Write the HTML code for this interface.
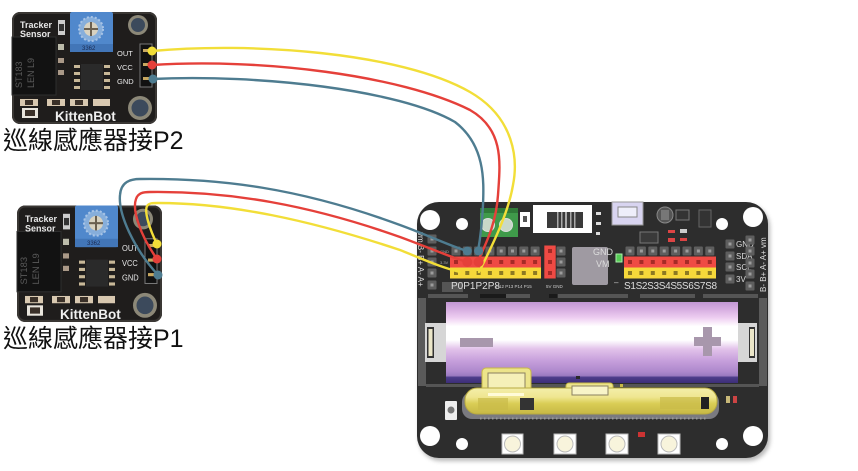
<!DOCTYPE html>
<html><head><meta charset="utf-8"><style>
html,body{margin:0;padding:0;background:#fff;width:858px;height:471px;overflow:hidden}
svg{display:block}
text{font-family:"Liberation Sans","Noto Sans CJK TC",sans-serif}
</style></head><body>
<svg width="858" height="471" viewBox="0 0 858 471" xmlns="http://www.w3.org/2000/svg">
<defs>
<g id="pg"><rect x="-4.5" y="-4.5" width="9" height="9" rx="1" fill="#5e5e5e"/><rect x="-1.5" y="-1.5" width="3" height="3" fill="#9c9c9c"/></g>
<g id="pr"><rect x="-5.7" y="-5.5" width="11.4" height="11" fill="#ef4a44"/><rect x="-2" y="-2" width="4" height="4" fill="#a52a26"/></g>
<g id="py"><rect x="-5.7" y="-5.5" width="11.4" height="11" fill="#f6d83a"/><rect x="-2" y="-2" width="4" height="4" fill="#8c7a22"/></g>
<linearGradient id="bat" x1="0" y1="0" x2="0" y2="1">
<stop offset="0" stop-color="#c298d4"/><stop offset="0.1" stop-color="#d9b0e2"/><stop offset="0.2" stop-color="#efd0f2"/><stop offset="0.3" stop-color="#ffffff"/><stop offset="0.47" stop-color="#ffffff"/><stop offset="0.58" stop-color="#e2c2ea"/><stop offset="0.72" stop-color="#c7a0dc"/><stop offset="0.86" stop-color="#ad88cc"/><stop offset="0.91" stop-color="#9a7ac0"/><stop offset="0.93" stop-color="#4c3c8a"/><stop offset="1" stop-color="#3d2e78"/>
</linearGradient>
<linearGradient id="gold" x1="0" y1="0" x2="0" y2="1">
<stop offset="0" stop-color="#f4eeaa"/><stop offset="0.35" stop-color="#efe690"/><stop offset="0.6" stop-color="#d9cd55"/><stop offset="1" stop-color="#c7b845"/>
</linearGradient>
<filter id="sh" x="-5%" y="-5%" width="110%" height="110%"><feGaussianBlur stdDeviation="2"/></filter>

<g id="sensor">
<rect x="12" y="12" width="145" height="112" rx="8" fill="#1f1d1c"/>
<rect x="13" y="13" width="143" height="110" rx="7" fill="none" stroke="#3a3734" stroke-width="2"/>
<rect x="12" y="37" width="44" height="58" fill="#121212" stroke="#2e2e2e"/>
<text transform="translate(22,88) rotate(-90)" font-size="9" fill="#5a5a5a">ST183</text>
<text transform="translate(34,88) rotate(-90)" font-size="9" fill="#5a5a5a">LEN L9</text>
<text x="20" y="28" font-size="9" font-weight="bold" fill="#e8e8e8">Tracker</text>
<text x="20" y="37" font-size="9" font-weight="bold" fill="#e8e8e8">Sensor</text>
<rect x="58" y="20" width="7" height="15" fill="#ccc"/><rect x="59" y="24" width="5" height="7" fill="#333"/>
<rect x="58" y="44" width="6" height="6" fill="#bba"/><rect x="58" y="58" width="6" height="5" fill="#a98"/><rect x="58" y="70" width="6" height="5" fill="#a98"/>
<rect x="70" y="12" width="43" height="40" rx="2" fill="#5088cc"/>
<rect x="70" y="44" width="43" height="8" fill="#4276b8"/>
<circle cx="91" cy="29" r="12" fill="#86aedb" stroke="#a8c4e6" stroke-width="2" stroke-dasharray="2 2"/>
<circle cx="91" cy="29" r="7" fill="#d8d2c0"/>
<rect x="84" y="28" width="14" height="2" fill="#6a6050"/><rect x="90" y="22" width="2" height="14" fill="#6a6050"/>
<text x="82" y="50" font-size="6" fill="#1a2a50">3362</text>
<rect x="81" y="64" width="22" height="26" fill="#2a2a2a"/>
<g fill="#c8b898"><rect x="74" y="65" width="6" height="3"/><rect x="74" y="72" width="6" height="3"/><rect x="74" y="79" width="6" height="3"/><rect x="74" y="86" width="6" height="3"/><rect x="104" y="65" width="6" height="3"/><rect x="104" y="72" width="6" height="3"/><rect x="104" y="79" width="6" height="3"/><rect x="104" y="86" width="6" height="3"/></g>
<text x="117" y="56" font-size="7.5" fill="#e8e8e8">OUT</text>
<text x="117" y="70" font-size="7.5" fill="#e8e8e8">VCC</text>
<text x="117" y="84" font-size="7.5" fill="#e8e8e8">GND</text>
<rect x="140" y="44" width="12" height="43" fill="#111" stroke="#777" stroke-width="1"/>
<rect x="143" y="49" width="9" height="3" fill="#c8a860"/><rect x="143" y="63" width="9" height="3" fill="#c8a860"/><rect x="143" y="77" width="9" height="3" fill="#c8a860"/>
<circle cx="138" cy="25" r="10" fill="#8c8878"/><circle cx="138" cy="25" r="7" fill="#3c4a5c"/>
<circle cx="140" cy="108" r="12" fill="#8c8878"/><circle cx="140" cy="108" r="8.5" fill="#3c4a5c"/>
<g fill="#d8c8b0"><rect x="20" y="99" width="18" height="7"/><rect x="47" y="99" width="18" height="7"/><rect x="70" y="99" width="18" height="7"/><rect x="93" y="99" width="17" height="7"/></g>
<g fill="#3a3028"><rect x="25" y="100" width="8" height="5"/><rect x="52" y="100" width="8" height="5"/><rect x="75" y="100" width="8" height="5"/></g>
<rect x="22" y="108" width="16" height="10" fill="#e8e4dc"/><rect x="25" y="110" width="10" height="6" fill="#3a3028"/>
<text x="55" y="121" font-size="13.5" font-weight="bold" fill="#f0f0f0">KittenBot</text>
</g>
</defs>

<rect width="858" height="471" fill="#fff"/>

<use href="#sensor"/>
<use href="#sensor" transform="translate(5,193) scale(1.0,1.04)"/>

<text x="3" y="149" font-size="25" fill="#111" font-family="'Liberation Sans','Noto Sans CJK TC',sans-serif">巡線感應器接P2</text>
<text x="3" y="347" font-size="25" fill="#111" font-family="'Liberation Sans','Noto Sans CJK TC',sans-serif">巡線感應器接P1</text>

<!-- board -->
<rect x="419" y="205" width="351" height="256" rx="22" fill="#888" opacity="0.6" filter="url(#sh)"/>
<rect x="417" y="202" width="351" height="256" rx="22" fill="#2d2d2d"/>
<circle cx="430" cy="220" r="10" fill="#fff"/><circle cx="462" cy="224" r="6" fill="#fff"/>
<circle cx="753" cy="217" r="10" fill="#fff"/><circle cx="722" cy="224" r="6" fill="#fff"/>
<circle cx="430" cy="436" r="10" fill="#fff"/><circle cx="462" cy="444" r="6" fill="#fff"/>
<circle cx="753" cy="436" r="10" fill="#fff"/><circle cx="722" cy="444" r="6" fill="#fff"/>

<!-- top components -->
<rect x="480" y="208" width="38" height="29" fill="#3f9a4a"/>
<rect x="480" y="208" width="38" height="5" fill="#2f7a38"/>
<circle cx="488" cy="225" r="6.5" fill="#c8d8c8" stroke="#ddd"/><circle cx="506" cy="225" r="6.5" fill="#c8d8c8" stroke="#ddd"/>
<rect x="520" y="212" width="10" height="15" fill="#fff"/><rect x="523" y="216" width="4" height="6" fill="#555"/>
<rect x="533" y="205" width="59" height="28" fill="#fff"/>
<rect x="547" y="212" width="36" height="16" fill="#3a3a3a"/>
<g fill="#aaa"><rect x="557" y="212" width="1.5" height="16"/><rect x="561" y="212" width="1.5" height="16"/><rect x="565" y="212" width="2" height="16"/><rect x="570" y="212" width="1.5" height="16"/><rect x="574" y="212" width="1.5" height="16"/></g>
<rect x="596" y="212" width="5" height="3" fill="#ddd"/><rect x="596" y="222" width="5" height="3" fill="#ddd"/><rect x="596" y="232" width="4" height="3" fill="#ddd"/>
<rect x="612" y="202" width="31" height="23" fill="#d8d4f0" stroke="#999"/>
<rect x="618" y="207" width="19" height="10" fill="#eeeefa" stroke="#888"/>
<circle cx="665" cy="215" r="8" fill="#555" stroke="#888"/><rect x="661" y="210" width="8" height="10" fill="#777"/>
<rect x="676" y="210" width="13" height="10" fill="#333" stroke="#777"/>
<rect x="699" y="210" width="12" height="17" fill="#333" stroke="#666"/>
<rect x="640" y="232" width="18" height="11" fill="#3a3a3a" stroke="#777"/>
<rect x="668" y="230" width="7" height="3" fill="#d44"/><rect x="680" y="229" width="7" height="4" fill="#ccc"/>
<rect x="668" y="238" width="7" height="4" fill="#d44"/><rect x="680" y="238" width="7" height="3" fill="#d44"/>

<!-- left edge column -->
<g><use href="#pg" x="432" y="239"/><use href="#pg" x="432" y="251"/><use href="#pg" x="432" y="262"/><use href="#pg" x="432" y="273"/><use href="#pg" x="432" y="285"/></g>
<text transform="translate(418,232) rotate(90)" font-size="8" fill="#ddd">vm B- B+ A- A+</text>
<text x="440" y="253" font-size="4" fill="#aaa">GND</text>
<text x="440" y="264" font-size="4" fill="#aaa">3.3V</text>

<!-- left header -->
<rect x="450" y="256.5" width="91" height="11" fill="#ef4a44"/>
<rect x="450" y="267.5" width="91" height="11" fill="#f6d83a"/>
<g>
<use href="#pg" x="456" y="251"/><use href="#pg" x="467.3" y="251"/><use href="#pg" x="478.6" y="251"/><use href="#pg" x="489.9" y="251"/><use href="#pg" x="501.2" y="251"/><use href="#pg" x="512.5" y="251"/><use href="#pg" x="523.8" y="251"/><use href="#pg" x="535.1" y="251"/>
<use href="#pr" x="456" y="262"/><use href="#pr" x="467.3" y="262"/><use href="#pr" x="478.6" y="262"/><use href="#pr" x="489.9" y="262"/><use href="#pr" x="501.2" y="262"/><use href="#pr" x="512.5" y="262"/><use href="#pr" x="523.8" y="262"/><use href="#pr" x="535.1" y="262"/>
<use href="#py" x="456" y="273"/><use href="#py" x="467.3" y="273"/><use href="#py" x="478.6" y="273"/><use href="#py" x="489.9" y="273"/><use href="#py" x="501.2" y="273"/><use href="#py" x="512.5" y="273"/><use href="#py" x="523.8" y="273"/><use href="#py" x="535.1" y="273"/>
<use href="#pr" x="550" y="251"/><use href="#pr" x="550" y="262"/><use href="#pr" x="550" y="273"/>
<use href="#pg" x="561" y="251"/><use href="#pg" x="561" y="262"/><use href="#pg" x="561" y="273"/>
</g>
<rect x="442" y="282" width="21" height="10" fill="#555"/>
<text x="451" y="289" font-size="10" fill="#ddd">P0P1P2P8</text>
<text x="496" y="288" font-size="4.5" fill="#ccc">P12 P13 P14 P15</text>
<text x="546" y="288" font-size="4.5" fill="#ccc">5V GND</text>
<rect x="572" y="247" width="36" height="38" rx="2" fill="#9f9aa2"/>
<text x="593" y="255" font-size="9" fill="#ddd">GND</text>
<text x="596" y="267" font-size="9" fill="#ddd">VM</text>
<rect x="616" y="254" width="6" height="8" fill="#5c5" stroke="#aea"/>
<text x="614" y="285" font-size="8" fill="#ccc">–</text>

<!-- right header -->
<rect x="624" y="256.5" width="92" height="11" fill="#ef4a44"/>
<rect x="624" y="267.5" width="92" height="11" fill="#f6d83a"/>
<g>
<use href="#pg" x="630" y="251"/><use href="#pg" x="641.4" y="251"/><use href="#pg" x="652.8" y="251"/><use href="#pg" x="664.2" y="251"/><use href="#pg" x="675.6" y="251"/><use href="#pg" x="687" y="251"/><use href="#pg" x="698.4" y="251"/><use href="#pg" x="709.8" y="251"/>
<use href="#pr" x="630" y="262"/><use href="#pr" x="641.4" y="262"/><use href="#pr" x="652.8" y="262"/><use href="#pr" x="664.2" y="262"/><use href="#pr" x="675.6" y="262"/><use href="#pr" x="687" y="262"/><use href="#pr" x="698.4" y="262"/><use href="#pr" x="709.8" y="262"/>
<use href="#py" x="630" y="273"/><use href="#py" x="641.4" y="273"/><use href="#py" x="652.8" y="273"/><use href="#py" x="664.2" y="273"/><use href="#py" x="675.6" y="273"/><use href="#py" x="687" y="273"/><use href="#py" x="698.4" y="273"/><use href="#py" x="709.8" y="273"/>
</g>
<text x="624" y="289" font-size="10" fill="#ddd" textLength="93">S1S2S3S4S5S6S7S8</text>
<g><use href="#pg" x="730" y="244"/><use href="#pg" x="730" y="256"/><use href="#pg" x="730" y="267"/><use href="#pg" x="730" y="279"/></g>
<text x="736" y="247" font-size="8" fill="#ddd">GND</text>
<text x="736" y="259" font-size="8" fill="#ddd">SDA</text>
<text x="736" y="270" font-size="8" fill="#ddd">SCL</text>
<text x="736" y="282" font-size="8" fill="#ddd">3V</text>
<g><use href="#pg" x="750" y="240"/><use href="#pg" x="750" y="251"/><use href="#pg" x="750" y="263"/><use href="#pg" x="750" y="274"/><use href="#pg" x="750" y="286"/></g>
<text transform="translate(766,292) rotate(-90)" font-size="8" fill="#ddd">B- B+ A- A+ vm</text>

<!-- battery area -->
<g fill="#555"><rect x="428" y="294" width="40" height="4"/><rect x="486" y="294" width="44" height="4"/><rect x="558" y="294" width="70" height="4"/><rect x="640" y="294" width="55" height="4"/><rect x="703" y="294" width="55" height="4"/></g>
<g fill="#1a1a1a"><rect x="480" y="294" width="26" height="4"/><rect x="549" y="294" width="8" height="4"/></g>
<rect x="418" y="298" width="8" height="88" fill="#5a5a5a"/>
<rect x="759" y="298" width="8" height="88" fill="#5a5a5a"/>
<rect x="426" y="384" width="333" height="3" fill="#555"/>
<rect x="446" y="302" width="292" height="81" fill="url(#bat)"/>
<rect x="425" y="323" width="21" height="39" fill="#d6d6d6"/>
<rect x="427" y="327" width="7" height="31" fill="#333"/><rect x="428.5" y="329" width="4" height="27" fill="#ebe6c8"/>
<rect x="738" y="323" width="19" height="39" fill="#d6d6d6"/>
<rect x="749" y="327" width="6" height="31" fill="#333"/><rect x="750" y="329" width="4" height="27" fill="#ebe6c8"/>
<rect x="460" y="338" width="33" height="9" fill="#a897ac"/>
<rect x="694" y="337" width="27" height="9" fill="#a897ac"/>
<rect x="703" y="327" width="9" height="29" fill="#a897ac"/>

<!-- micro:bit -->
<rect x="462" y="392" width="257" height="27" rx="10" fill="#7a7a80"/>
<rect x="482" y="368" width="49" height="30" rx="4" fill="#ece48a" stroke="#c7b845"/>
<rect x="488" y="373" width="37" height="20" fill="#f5f0b8" stroke="#8a8060"/>
<rect x="566" y="383" width="47" height="14" rx="3" fill="#ece48a" stroke="#c7b845"/>
<rect x="465" y="388" width="252" height="26" rx="12" fill="url(#gold)" stroke="#b8aa40"/>
<rect x="488" y="393" width="36" height="3" fill="#fffbd8"/>
<rect x="478" y="398" width="30" height="12" fill="#c9bb48" opacity="0.7"/>
<rect x="520" y="398" width="14" height="12" fill="#333"/>
<rect x="572" y="386" width="36" height="9" fill="#f8f4c8" stroke="#8a8060"/>
<rect x="660" y="397" width="40" height="12" fill="#c9bb48" opacity="0.7"/>
<rect x="701" y="397" width="8" height="12" fill="#222"/>
<line x1="480" y1="418.5" x2="706" y2="418.5" stroke="#999" stroke-width="2" stroke-dasharray="1.5 2.5"/>
<rect x="576" y="376" width="4" height="3" fill="#2a2a2a"/><rect x="620" y="384" width="3" height="3" fill="#c7b845"/>

<!-- bottom components -->
<rect x="445" y="401" width="12" height="19" rx="1" fill="#eee"/><circle cx="451" cy="410" r="3.5" fill="#777"/>
<rect x="726" y="396" width="4" height="7" fill="#c8b878"/><rect x="733" y="396" width="4" height="7" fill="#c44"/>
<rect x="638" y="432" width="7" height="5" fill="#c33"/>
<g stroke="#bbb" stroke-width="1">
<rect x="502" y="434" width="21" height="20" fill="#fff"/><circle cx="512.5" cy="444" r="8" fill="#f8f4dc"/>
<rect x="554" y="434" width="22" height="20" fill="#fff"/><circle cx="565" cy="444" r="8" fill="#f8f4dc"/>
<rect x="606" y="434" width="22" height="20" fill="#fff"/><circle cx="617" cy="444" r="8" fill="#f8f4dc"/>
<rect x="658" y="434" width="22" height="20" fill="#fff"/><circle cx="669" cy="444" r="8" fill="#f8f4dc"/>
</g>

<!-- wires -->
<g fill="none" stroke-width="2.4" stroke-linecap="round">
<path d="M152,51 C250,42 400,52 470,92 C515,118 518,160 513,185 C508,215 490,250 479,272" stroke="#f2de38"/>
<path d="M152,65 C260,58 400,75 470,110 C505,130 500,165 498,195 C496,225 485,245 478,261" stroke="#e5403a"/>
<path d="M152,79 C260,74 400,90 455,122 C485,145 484,180 483,205 C482,225 480,240 478,251" stroke="#4e7c90"/>
<path d="M158,275 C135,250 118,215 120,195 C121,182 130,179 140,179 C220,178 300,188 400,225 C430,236 450,246 467,251" stroke="#4e7c90"/>
<path d="M157,259 C140,235 132,210 136,199 C138,193 143,192 150,192 C230,191 310,205 400,237 C430,248 450,257 467,262" stroke="#e5403a"/>
<path d="M157,244 C150,230 144,212 147,206 C149,203 152,203 158,203 C230,203 310,220 400,250 C425,260 440,267 460,272" stroke="#f2de38"/>
</g>
<circle cx="152" cy="51" r="4.5" fill="#f2de38"/>
<circle cx="152" cy="65" r="4.5" fill="#e5403a"/>
<circle cx="153" cy="79" r="4.5" fill="#4e7c90"/>
<circle cx="157" cy="244" r="4.5" fill="#f2de38"/>
<circle cx="157" cy="259" r="4.5" fill="#e5403a"/>
<circle cx="158" cy="275" r="4.5" fill="#4e7c90"/>
<circle cx="467.3" cy="251" r="4.5" fill="#4e7c90"/>
<circle cx="478.6" cy="251" r="4.5" fill="#4e7c90"/>
<circle cx="467.3" cy="262" r="5" fill="#e5403a"/>
<circle cx="478.6" cy="262" r="5" fill="#e5403a"/>
</svg>
</body></html>
